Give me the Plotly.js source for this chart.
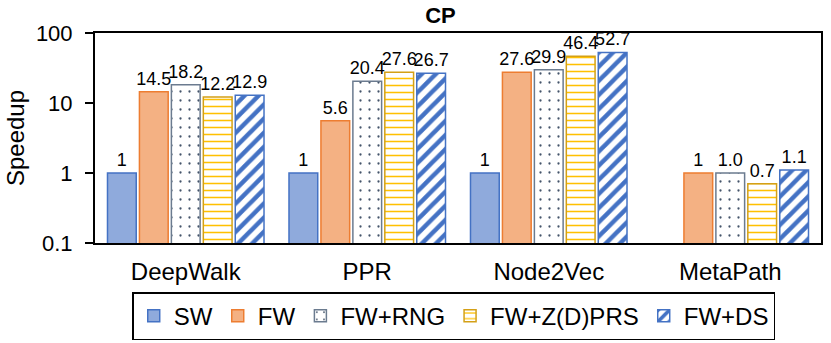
<!DOCTYPE html>
<html>
<head>
<meta charset="utf-8">
<script src="https://cdn.plot.ly/plotly-3.0.1.min.js"></script>
<style>
  body { margin: 0; background: #fff; }
  #chart { width: 831px; height: 343px; }
</style>
</head>
<body>
<div id="chart"></div>
<script>
// speedup data (CP)
const categories = ['DeepWalk', 'PPR', 'Node2Vec', 'MetaPath'];

const swVals = [1, 1, 1, null];
const fwVals = [14.5, 5.6, 27.6, 1];
const rngVals = [18.2, 20.4, 29.9, 1.0];
const prsVals = [12.2, 27.6, 46.4, 0.7];
const dsVals = [12.9, 26.7, 52.7, 1.1];

const swText = ['1', '1', '1', ''];
const fwText = ['14.5', '5.6', '27.6', '1'];
const rngText = ['18.2', '20.4', '29.9', '1.0'];
const prsText = ['12.2', '27.6', '46.4', '0.7'];
const dsText = ['12.9', '26.7', '52.7', '1.1'];

const labelFont = { family: 'Liberation Sans, Arial, sans-serif', size: 18, color: '#000' };

function makeTrace(name, y, text, marker) {
    return {
        type: 'bar',
        name: name,
        x: categories,
        y: y,
        text: text,
        textposition: 'outside',
        constraintext: 'none',
        cliponaxis: false,
        textfont: labelFont,
        marker: marker,
        hoverinfo: 'skip'
    };
}

const traces = [
    makeTrace('SW', swVals, swText, {
        color: '#8FAADC',
        line: { color: '#4472C4', width: 1.5 }
    }),
    makeTrace('FW', fwVals, fwText, {
        color: '#F4B183',
        line: { color: '#ED7D31', width: 1.5 }
    }),
    makeTrace('FW+RNG', rngVals, rngText, {
        color: '#ffffff',
        line: { color: '#6B7B8F', width: 1.5 },
        pattern: { shape: '.', fgcolor: '#44546A', bgcolor: '#ffffff', size: 9, solidity: 0.05 }
    }),
    makeTrace('FW+Z(D)PRS', prsVals, prsText, {
        color: '#ffffff',
        line: { color: '#D4A017', width: 1.5 },
        pattern: { shape: '-', fgcolor: '#FFC000', bgcolor: '#ffffff', size: 7, solidity: 0.22 }
    }),
    makeTrace('FW+DS', dsVals, dsText, {
        color: '#ffffff',
        line: { color: '#4472C4', width: 1.5 },
        pattern: { shape: '/', fgcolor: '#4472C4', bgcolor: '#ffffff', size: 10, solidity: 0.45 }
    })
];

const layout = {
    width: 831,
    height: 343,
    margin: { l: 95, r: 10, t: 33, b: 100, autoexpand: false },
    paper_bgcolor: '#fff',
    plot_bgcolor: '#fff',
    font: { family: 'Liberation Sans, Arial, sans-serif', color: '#000' },
    title: {
        text: '<b>CP</b>',
        font: { size: 22, color: '#000' },
        x: 0.53, xanchor: 'center',
        y: 0.956, yanchor: 'middle'
    },
    barmode: 'group',
    bargap: 0.12,
    bargroupgap: 0.1,
    showlegend: true,
    legend: {
        orientation: 'h',
        xref: 'container', yref: 'container',
        x: 0.546, xanchor: 'center',
        y: 0.148, yanchor: 'top',
        bordercolor: '#000',
        borderwidth: 1.5,
        font: { size: 24 },
        traceorder: 'normal'
    },
    xaxis: {
        showline: true,
        linecolor: '#000',
        linewidth: 2,
        mirror: true,
        ticks: '',
        ticklabelstandoff: 6,
        tickfont: { size: 24 },
        showgrid: false
    },
    yaxis: {
        type: 'log',
        range: [-1, 2],
        tickvals: [0.1, 1, 10, 100],
        ticktext: ['0.1', '1', '10', '100'],
        ticks: 'outside',
        ticklen: 8,
        tickwidth: 1.5,
        tickcolor: '#000',
        ticklabelstandoff: 8,
        showline: true,
        linecolor: '#000',
        linewidth: 2,
        mirror: true,
        showgrid: false,
        zeroline: false,
        tickfont: { size: 22 },
        title: { text: 'Speedup', font: { size: 24 }, standoff: 4 }
    }
};

Plotly.newPlot('chart', traces, layout, { displayModeBar: false, staticPlot: true });
</script>
</body>
</html>
